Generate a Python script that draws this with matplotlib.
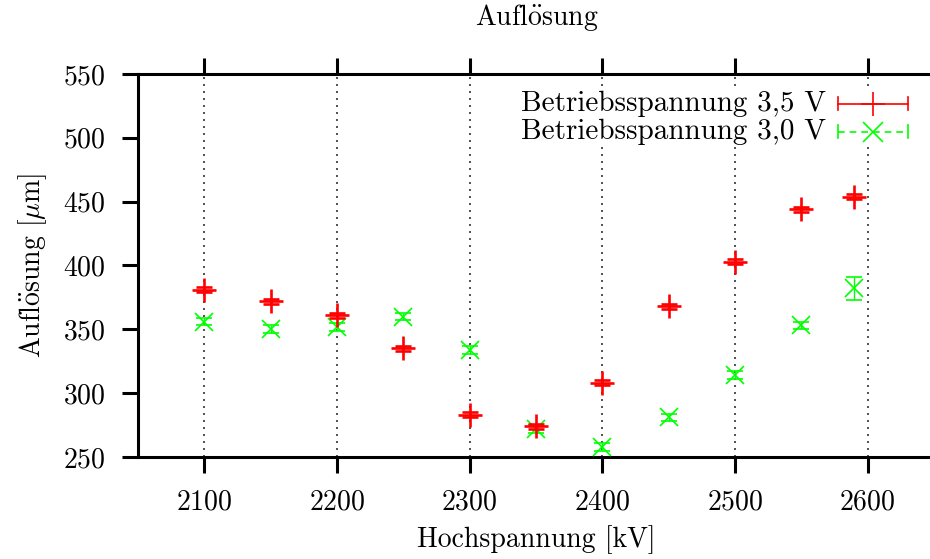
import matplotlib
matplotlib.use("Agg")
import matplotlib.pyplot as plt
from matplotlib.patches import Rectangle

plt.rcParams['font.family'] = ['cmr10', 'DejaVu Serif']
plt.rcParams['mathtext.fontset'] = 'cm'
plt.rcParams['axes.formatter.use_mathtext'] = True

# Messwerte
hv = [2100, 2150, 2200, 2250, 2300, 2350, 2400, 2450, 2500, 2550, 2590]
aufl_35 = [381, 372, 361, 335, 283, 274, 308, 368, 403, 444, 454]
err_35 = [2, 2, 2, 2, 2, 2, 2, 2, 2, 2, 2]
aufl_30 = [356, 350, 352, 360, 334, 272, 258, 281, 314, 353, 382]
err_30 = [3, 3, 3, 3, 3, 3, 3, 3, 3, 3, 9]

oe = r'$\ddot{\mathrm{o}}$'

fig = plt.figure(figsize=(9.3, 5.59), dpi=100)
ax = fig.add_axes([0.1484, 0.1825, 0.8559, 0.6852])

ax.errorbar(hv, aufl_35, yerr=err_35, fmt='+', color='#ff0000', ms=17, mew=1.9,
            elinewidth=1.2, capsize=6, capthick=2.0, zorder=4)
ax.errorbar(hv, aufl_30, yerr=err_30, fmt='x', color='#00ff00', ms=13.5, mew=1.2,
            elinewidth=1.0, capsize=6, capthick=1.0, zorder=3)

ax.set_xlim(2050, 2650)
ax.set_ylim(250, 550)
ax.set_xticks([2100, 2200, 2300, 2400, 2500, 2600])
ax.set_yticks([250, 300, 350, 400, 450, 500, 550])
ax.xaxis.grid(True, color='#333333', linestyle=(0, (1.2, 3)), linewidth=1.2)
ax.set_axisbelow(True)

for s in ['top', 'bottom', 'left']:
    ax.spines[s].set_linewidth(2.2)
ax.spines['right'].set_visible(False)
ax.tick_params(axis='both', direction='out', length=11.5, width=2.2, labelsize=20, pad=12)
ax.tick_params(axis='x', top=True)

fig.text(0.577, 0.968, 'Aufl' + oe + 'sung', fontsize=20, ha='center', va='center')
ax.set_xlabel('Hochspannung [kV]', fontsize=20, labelpad=7)
ax.set_ylabel('Aufl' + oe + r'sung [$\mu$m]', fontsize=20, labelpad=10)

# Legende wie bei gnuplot
ax.add_patch(Rectangle((0.474, 0.8225), 0.502, 0.141, transform=ax.transAxes,
                       facecolor='white', edgecolor='none', zorder=2))
legende = [('Betriebsspannung 3,5 V', '#ff0000', '-', '+', 0.9217, 17, 1.2),
           ('Betriebsspannung 3,0 V', '#00ff00', (0, (4, 3)), 'x', 0.8486, 14, 1.2)]
for text, farbe, ls, mk, yy, ms, mew in legende:
    ax.text(0.8643, yy, text, transform=ax.transAxes, ha='right', va='center',
            fontsize=21, zorder=5)
    ax.plot([0.8794, 0.9673], [yy, yy], transform=ax.transAxes, color=farbe,
            ls=ls, lw=1.2, zorder=5, clip_on=False)
    for xx in [0.8794, 0.9673]:
        ax.plot([xx, xx], [yy - 0.017, yy + 0.017], transform=ax.transAxes,
                color=farbe, lw=1.2, zorder=5, clip_on=False)
    ax.plot([0.9234], [yy], transform=ax.transAxes, color=farbe, marker=mk,
            ms=ms, mew=mew, ls='none', zorder=5, clip_on=False)

fig.savefig('out.png', dpi=100)
